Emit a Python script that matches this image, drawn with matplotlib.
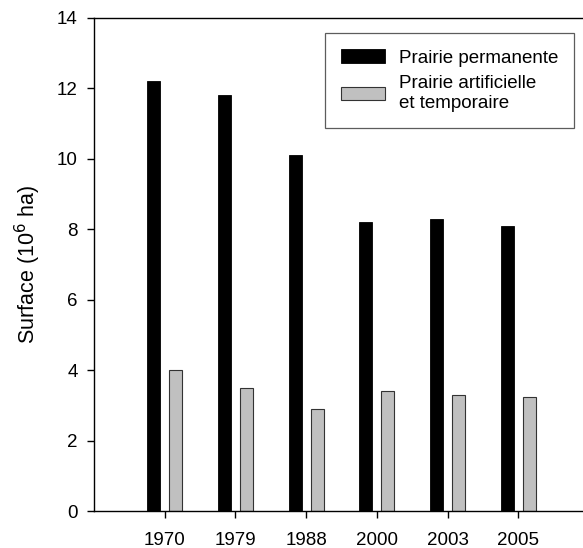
import numpy as np
import matplotlib
matplotlib.use("Agg")
import matplotlib.pyplot as plt

plt.rcParams['font.family'] = ['Liberation Sans', 'DejaVu Sans']

years = ["1970", "1979", "1988", "2000", "2003", "2005"]
permanente = [12.2, 11.8, 10.1, 8.2, 8.3, 8.1]
artificielle = [4.0, 3.5, 2.9, 3.4, 3.3, 3.25]

fig = plt.figure(figsize=(5.83, 5.48), dpi=100)
ax = fig.add_axes([94 / 583, 1 - 511 / 548, (582 - 94) / 583, (511 - 18) / 548])

x = np.arange(len(years))
w = 0.185
ax.bar(x - 0.155, permanente, width=w, color="black", edgecolor="black",
       linewidth=0.6, label="Prairie permanente")
ax.bar(x + 0.155, artificielle, width=w, color="#c0c0c0", edgecolor="#333333",
       linewidth=0.8, label="Prairie artificielle\net temporaire")

ax.set_xlim(-1.0, 5.9)
ax.set_ylim(0, 14)
ax.set_xticks(x)
ax.set_xticklabels(years)
ax.set_yticks(np.arange(0, 15, 2))
ax.tick_params(direction="out", length=5.2, width=1, labelsize=13.5)
ax.tick_params(axis="x", pad=10)
ax.tick_params(axis="y", pad=6.5)
ax.spines["right"].set_visible(False)
for s in ["left", "bottom", "top"]:
    ax.spines[s].set_linewidth(1)
ax.set_ylabel("Surface (10$^6$ ha)", fontsize=15.5, labelpad=10)

leg = ax.legend(loc="upper right", bbox_to_anchor=(0.984, 0.969), fontsize=13.5,
                frameon=True, fancybox=False, edgecolor="#333333",
                handlelength=2.35, handleheight=0.75, borderpad=0.85,
                labelspacing=0.42, handletextpad=0.75, borderaxespad=0)
leg.get_frame().set_linewidth(0.9)
for t in leg.get_texts():
    t.set_linespacing(1.3)

fig.savefig("out.png", dpi=100)
